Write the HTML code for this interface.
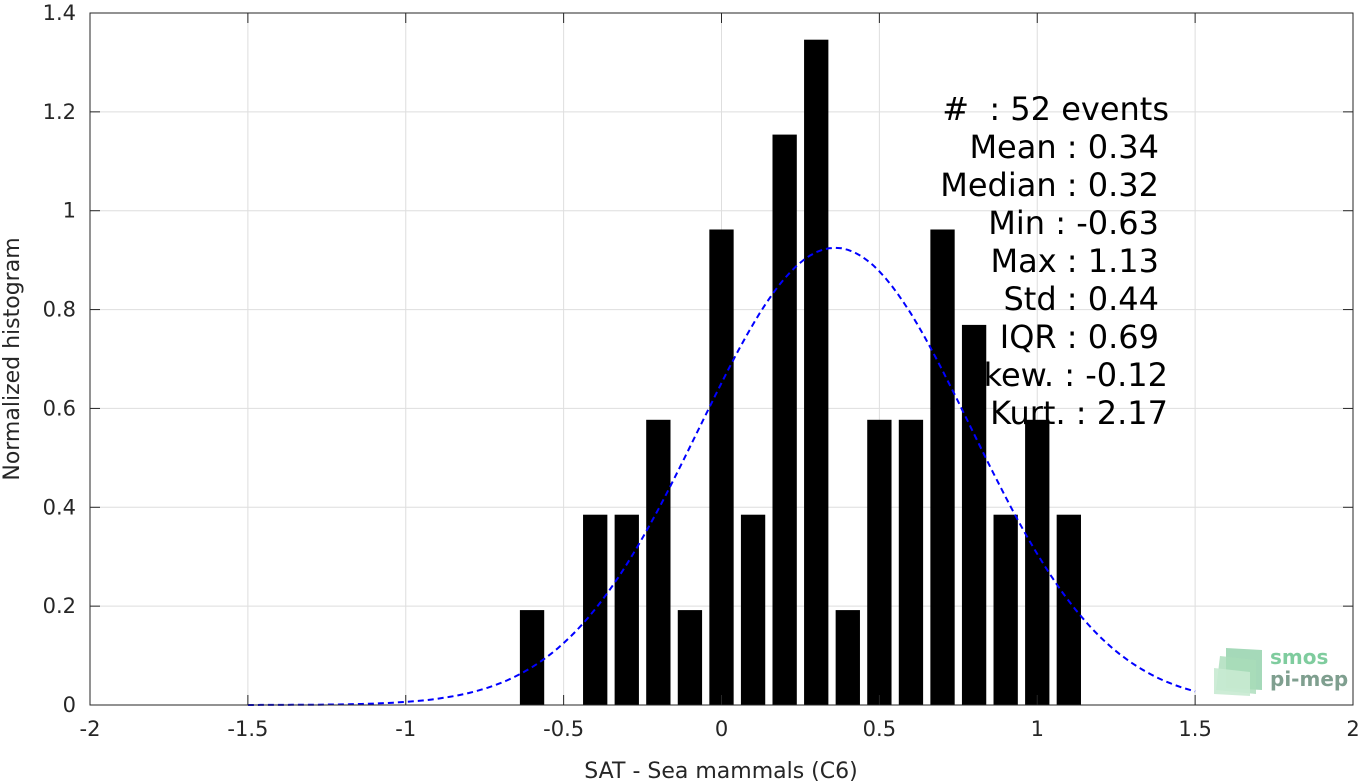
<!DOCTYPE html>
<html><head><meta charset="utf-8"><style>
html,body{margin:0;padding:0;background:#fff;}
svg{display:block;font-family:"DejaVu Sans","Liberation Sans",sans-serif;}
</style></head><body>
<svg id="chart" width="1366" height="784">
<g id="grid"></g>
<g id="stats"></g>
<g id="bars"></g>
<path id="fit" fill="none" stroke="#0000ff" stroke-width="2" stroke-dasharray="6,4"/>
<g id="axes"></g>
<text x="721" y="778" font-size="22" fill="#262626" text-anchor="middle">SAT - Sea mammals (C6)</text>
<text transform="translate(19,359) rotate(-90)" font-size="22" fill="#262626" text-anchor="middle">Normalized histogram</text>
<g>
<polygon points="1226,648 1262,650 1262,690 1226,688" fill="#8fcfa8" opacity="0.8"/>
<polygon points="1220,656 1256,660 1256,694 1216,690" fill="#a9dcb9" opacity="0.8"/>
<polygon points="1214,668 1250,672 1250,696 1214,694" fill="#c8ead2" opacity="0.9"/>
<text x="1270" y="664" font-size="20" font-weight="bold" fill="#7fcc9e">smos</text>
<text x="1270" y="686" font-size="20" font-weight="bold" fill="#7f9f8f">pi-mep</text>
</g>
</svg>
<script>
const binCenters=[-0.6,-0.4,-0.3,-0.2,-0.1,0,0.1,0.2,0.3,0.4,0.5,0.6,0.7,0.8,0.9,1.0,1.1];
const binValues=[0.192,0.385,0.385,0.577,0.192,0.962,0.385,1.154,1.346,0.192,0.577,0.577,0.962,0.769,0.385,0.577,0.385];
const xTicks=[-2,-1.5,-1,-0.5,0,0.5,1,1.5,2];
const xTickLabels=["-2","-1.5","-1","-0.5","0","0.5","1","1.5","2"];
const yTicks=[0,0.2,0.4,0.6,0.8,1,1.2,1.4];
const yTickLabels=["0","0.2","0.4","0.6","0.8","1","1.2","1.4"];
const fitMean=0.36, fitStd=0.43, fitPeak=0.925, fitRange=[-1.5,1.5];
const statLines=["#  : 52 events","Mean : 0.34","Median : 0.32","Min : -0.63","Max : 1.13","Std : 0.44","IQR : 0.69","Skew. : -0.12","Kurt. : 2.17"];
const L=90,R=1353,T=13,B=705;
const X=v=>L+(v+2)/4*(R-L);
const Y=v=>B-v/1.4*(B-T);
const NS="http://www.w3.org/2000/svg";
function mk(tag,parent,attrs){const e=document.createElementNS(NS,tag);for(const k in attrs)e.setAttribute(k,attrs[k]);parent.appendChild(e);return e;}
const grid=document.getElementById('grid'),axes=document.getElementById('axes');
xTicks.forEach((t,i)=>{
 if(i>0&&i<xTicks.length-1){const g=mk('line',grid,{x1:X(t),x2:X(t),y1:T,y2:B,stroke:'#dedede','stroke-width':1});
 }
 mk('line',axes,{x1:X(t),x2:X(t),y1:B,y2:B-10,stroke:'#262626'});
 mk('line',axes,{x1:X(t),x2:X(t),y1:T,y2:T+10,stroke:'#262626'});
 const tx=mk('text',axes,{x:X(t),y:B+31,'font-size':21,fill:'#262626','text-anchor':'middle'});
 tx.textContent=xTickLabels[i];
 
});
yTicks.forEach((t,i)=>{
 if(i>0&&i<yTicks.length-1){const g=mk('line',grid,{x1:L,x2:R,y1:Y(t),y2:Y(t),stroke:'#dedede','stroke-width':1});
 }
 mk('line',axes,{x1:L,x2:L+10,y1:Y(t),y2:Y(t),stroke:'#262626'});
 mk('line',axes,{x1:R,x2:R-10,y1:Y(t),y2:Y(t),stroke:'#262626'});
 const ty=mk('text',axes,{x:L-14,y:Y(t)+7,'font-size':21,fill:'#262626','text-anchor':'end'});
 ty.textContent=yTickLabels[i];
 
});
mk('rect',axes,{x:L,y:T,width:R-L,height:B-T,fill:'none',stroke:'#262626','stroke-width':1});
const stats=document.getElementById('stats');
const rightEdges=[1169,1159,1159,1159,1159,1159,1159,1168,1168];
statLines.forEach((s,i)=>{
 const t=mk('text',stats,{x:rightEdges[i],y:120+i*38,'font-size':32,fill:'#000','text-anchor':'end','xml:space':'preserve'});
 t.style.whiteSpace='pre';
 t.textContent=s;
 
});
const bars=document.getElementById('bars');
const bw=0.077*(R-L)/4;
binCenters.forEach((c,i)=>{
 const r=mk('rect',bars,{x:X(c)-bw/2,y:Y(binValues[i]),width:bw,height:Y(0)-Y(binValues[i]),fill:'#000'});
 
});
let d='';
for(let k=0;k<=150;k++){const x=fitRange[0]+(fitRange[1]-fitRange[0])*k/150;
 const y=fitPeak*Math.exp(-0.5*((x-fitMean)/fitStd)**2);
 d+=(k?'L':'M')+X(x).toFixed(1)+','+Y(y).toFixed(1);}
document.getElementById('fit').setAttribute('d',d);
</script>
</body></html>
